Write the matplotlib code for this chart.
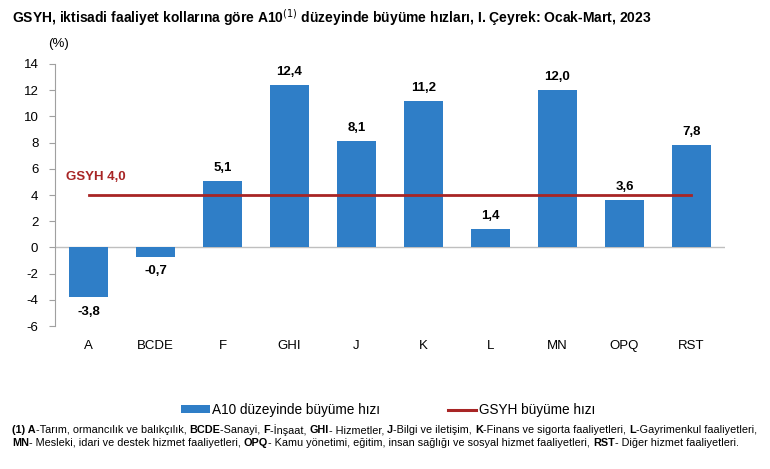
import matplotlib
matplotlib.use("Agg")
import matplotlib.pyplot as plt
from matplotlib.patches import Patch
from matplotlib.lines import Line2D

plt.rcParams['font.family'] = ['Liberation Sans', 'DejaVu Sans']

categories = ["A", "BCDE", "F", "GHI", "J", "K", "L", "MN", "OPQ", "RST"]
growth = [-3.8, -0.7, 5.1, 12.4, 8.1, 11.2, 1.4, 12.0, 3.6, 7.8]
gdp_growth = 4.0
yticks = list(range(-6, 15, 2))

bar_color = "#2F7EC7"
line_color = "#A82525"

fig = plt.figure(figsize=(7.7, 4.69), dpi=100)
ax = fig.add_axes([55/770, 1-326/469, 670/770, 262/469])

x = list(range(len(categories)))
ax.bar(x, growth, width=0.58, color=bar_color, zorder=2)
ax.plot([x[0], x[-1]], [gdp_growth, gdp_growth], color=line_color, lw=2.0, zorder=3)
ax.axhline(0, color="#BFBFBF", lw=1, zorder=1)

ax.set_xlim(-0.5, len(categories) - 0.5)
ax.set_ylim(-6, 14)
ax.set_yticks(yticks)
ax.set_yticklabels([str(t) for t in yticks], fontsize=9.5)
ax.set_xticks(x)
ax.set_xticklabels(categories, fontsize=9.5)
ax.tick_params(axis='x', length=0, pad=10)
ax.tick_params(axis='y', length=4, color="#A0A0A0", pad=8)
for s in ["top", "right", "bottom"]:
    ax.spines[s].set_visible(False)
ax.spines["left"].set_color("#A0A0A0")

for xi, v in zip(x, growth):
    lab = f"{v:.1f}".replace(".", ",")
    if v >= 0:
        ax.annotate(lab, (xi, v), xytext=(0, 5), textcoords="offset points",
                    ha="center", va="bottom", fontsize=9.5, fontweight="bold")
    else:
        ax.annotate(lab, (xi, v), xytext=(0, -6), textcoords="offset points",
                    ha="center", va="top", fontsize=9.5, fontweight="bold")

ax.annotate("GSYH " + f"{gdp_growth:.1f}".replace(".", ","), (x[0], gdp_growth),
            xytext=(-16, 9), textcoords="offset points", ha="left", va="bottom",
            fontsize=9.5, fontweight="bold", color=line_color)

fig.text(12/770, 1-18/469, "GSYH, iktisadi faaliyet kollarına göre A10$^{(1)}$ düzeyinde büyüme hızları, I. Çeyrek: Ocak-Mart, 2023",
         fontsize=10, fontweight="bold", va="center", ha="left")
fig.text(48/770, 1-44/469, "(%)", fontsize=9.5, va="center", ha="left")

handles = [Patch(facecolor=bar_color, edgecolor="none"),
           Line2D([0], [0], color=line_color, lw=2.2)]
labels = ["A10 düzeyinde büyüme hızı", "GSYH büyüme hızı"]
fig.legend(handles, labels, loc="center", bbox_to_anchor=(388/770, 1-410/469), ncol=2, frameon=False,
           fontsize=9.8, handlelength=2.1, handleheight=0.45, handletextpad=0.15, columnspacing=5)

lines = [
    [("(1) A", True), ("-Tarım, ormancılık ve balıkçılık, ", False), ("BCDE", True), ("-Sanayi, ", False),
     ("F", True), ("-İnşaat, ", False), ("GHI", True), ("- Hizmetler, ", False), ("J", True),
     ("-Bilgi ve iletişim, ", False), ("K", True), ("-Finans ve sigorta faaliyetleri, ", False),
     ("L", True), ("-Gayrimenkul faaliyetleri,", False)],
    [("MN", True), ("- Mesleki, idari ve destek hizmet faaliyetleri, ", False), ("OPQ", True),
     ("- Kamu yönetimi, eğitim, insan sağlığı ve sosyal hizmet faaliyetleri, ", False), ("RST", True),
     ("- Diğer hizmet faaliyetleri.", False)],
]
fig.canvas.draw()
renderer = fig.canvas.get_renderer()
for i, segs in enumerate(lines):
    xpos = 12
    ypix = 469 - (430 + i * 13)
    for txt, bold in segs:
        t = fig.text(xpos/770, ypix/469, txt, fontsize=7.8, fontweight="bold" if bold else "normal",
                     va="center", ha="left")
        bb = t.get_window_extent(renderer)
        xpos += bb.width

fig.savefig("out.png", dpi=100)
